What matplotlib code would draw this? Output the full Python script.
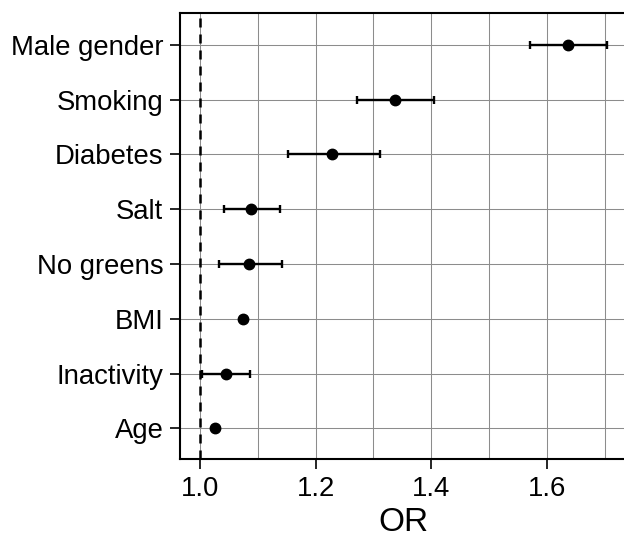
import numpy as np
import matplotlib
matplotlib.use("Agg")
import matplotlib.pyplot as plt
from matplotlib.ticker import MultipleLocator

plt.rcParams['font.family'] = ['Liberation Sans', 'DejaVu Sans']

# data (bottom to top)
factors = ['Age', 'Inactivity', 'BMI', 'No greens', 'Salt', 'Diabetes', 'Smoking', 'Male gender']
odds = [1.026, 1.045, 1.075, 1.085, 1.088, 1.229, 1.338, 1.636]
ci_low = [1.022, 1.004, 1.071, 1.033, 1.041, 1.153, 1.272, 1.571]
ci_high = [1.030, 1.087, 1.079, 1.142, 1.138, 1.311, 1.405, 1.705]

odds = np.array(odds)
err = np.array([odds - np.array(ci_low), np.array(ci_high) - odds])
ypos = np.arange(1, len(factors) + 1)

fig = plt.figure(figsize=(6.24, 5.39), dpi=100)
# right spine falls outside the canvas, as in the cropped original
ax = fig.add_axes([180 / 624, 80 / 539, 460 / 624, 446 / 539])

ax.xaxis.set_major_locator(MultipleLocator(0.2))
ax.xaxis.set_minor_locator(MultipleLocator(0.1))
ax.grid(True, which='both', axis='x', color='#8c8c8c', lw=0.75)
ax.grid(True, which='major', axis='y', color='#8c8c8c', lw=0.75)
ax.set_axisbelow(True)

ax.axvline(1.0, color='black', lw=1.8, ls=(0, (3.6, 2.8)), zorder=2)

ax.errorbar(odds, ypos, xerr=err, fmt='o', color='black', ms=7.5,
            elinewidth=1.7, capsize=3, capthick=1.7, zorder=3)

ax.set_xlim(0.9654, 0.9654 + 460 / 578)
ax.set_ylim(0.439, 8.584)
ax.set_yticks(ypos)
ax.set_yticklabels(factors)
ax.set_xticks([1.0, 1.2, 1.4, 1.6])
ax.set_xticklabels(['1.0', '1.2', '1.4', '1.6'])

ax.tick_params(axis='both', which='major', labelsize=19.8, length=7, width=1.2, pad=5)
ax.tick_params(axis='x', which='minor', length=0)
ax.set_xlabel('OR', fontsize=24)
ax.xaxis.set_label_coords(223 / 460, -0.107)

for side in ['left', 'bottom', 'top', 'right']:
    ax.spines[side].set_linewidth(1.5)

fig.savefig('out.png', dpi=100)
